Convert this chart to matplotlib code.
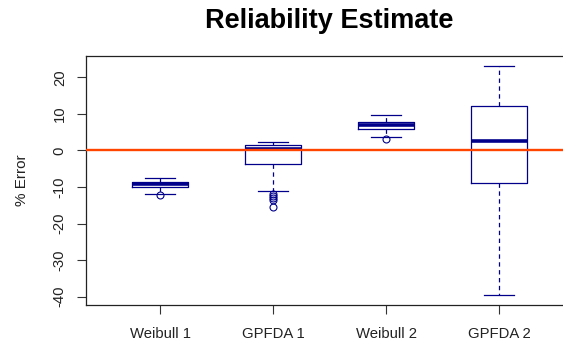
import matplotlib
matplotlib.use("Agg")
import matplotlib.pyplot as plt

plt.rcParams['font.family'] = ['Liberation Sans', 'DejaVu Sans']

# values (% error)
labels = ['Weibull 1', 'GPFDA 1', 'Weibull 2', 'GPFDA 2']
whis_hi = [-7.4, 2.3, 9.6, 23.2]
q3 = [-8.5, 1.5, 7.7, 12.3]
medians = [-9.1, 0.5, 7.1, 2.7]
q1 = [-9.9, -3.6, 6.0, -8.8]
whis_lo = [-11.9, -11.0, 3.6, -39.7]
fliers = [[-12.2], [-11.8, -12.4, -13.0, -13.6, -15.6], [3.1], []]
yticks = [20, 10, 0, -10, -20, -30, -40]

navy = '#00008B'

stats = []
for i in range(len(labels)):
    stats.append({'label': labels[i], 'med': medians[i], 'q1': q1[i], 'q3': q3[i],
                  'whislo': whis_lo[i], 'whishi': whis_hi[i], 'fliers': fliers[i]})

fig = plt.figure(figsize=(5.63, 3.45), dpi=100)
ax = fig.add_axes([0.152, 0.116, 0.867, 0.722])

ax.bxp(stats, positions=[1, 2, 3, 4], widths=0.5, patch_artist=False,
       boxprops={'color': navy, 'linewidth': 0.9},
       medianprops={'color': navy, 'linewidth': 2.6, 'solid_capstyle': 'butt'},
       whiskerprops={'color': navy, 'linewidth': 0.9, 'linestyle': (0, (3.5, 2.8))},
       capprops={'color': navy, 'linewidth': 0.9},
       capwidths=0.26,
       flierprops={'marker': 'o', 'markerfacecolor': 'none', 'markeredgecolor': navy,
                   'markersize': 5, 'markeredgewidth': 0.8})

ax.axhline(0, color='#FF4500', linewidth=1.7, zorder=3)

ax.set_xlim(0.34, 4.66)
ax.set_ylim(-42.3, 25.9)
ax.set_yticks(yticks)
ax.set_yticklabels([str(v) for v in yticks], rotation=90, va='center')
ax.set_xticks([1, 2, 3, 4])
ax.set_xticklabels(labels)
ax.tick_params(axis='both', labelsize=10.7, length=6.5, width=0.8, color='#333333',
               labelcolor='#222222')
ax.tick_params(axis='x', pad=9)
ax.tick_params(axis='y', pad=7)
for s in ax.spines.values():
    s.set_linewidth(0.9)
    s.set_color('#222222')

ax.set_ylabel('% Error', fontsize=11, color='#222222', labelpad=17)
fig.text(0.585, 1 - 28 / 345, 'Reliability Estimate', ha='center', va='baseline',
         fontsize=19.5, fontweight='bold')

fig.savefig('out.png', dpi=100)
